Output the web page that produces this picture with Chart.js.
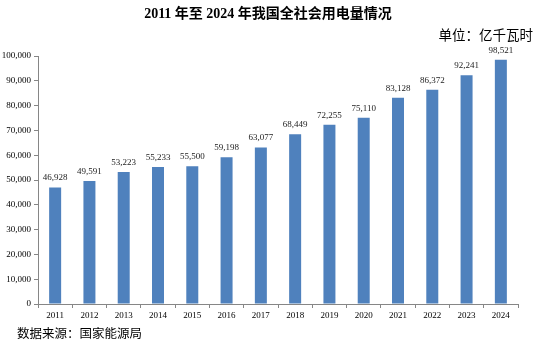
<!DOCTYPE html>
<html>
<head>
<meta charset="utf-8">
<script src="https://cdn.jsdelivr.net/npm/chart.js@4"></script>
<style>
  html, body { margin: 0; padding: 0; background: #fff; }
  #wrap { width: 537px; height: 346px; }
</style>
</head>
<body>
<div id="wrap"><canvas id="myChart" width="537" height="346"></canvas></div>
<script>
const years = ['2011', '2012', '2013', '2014', '2015', '2016', '2017', '2018', '2019', '2020', '2021', '2022', '2023', '2024'];
const usage = [46928, 49591, 53223, 55233, 55500, 59198, 63077, 68449, 72255, 75110, 83128, 86372, 92241, 98521];
const yTicks = [0, 10000, 20000, 30000, 40000, 50000, 60000, 70000, 80000, 90000, 100000];

const titleText = '2011 年至 2024 年我国全社会用电量情况';
const unitText = '单位：亿千瓦时';
const sourceText = '数据来源：国家能源局';

const fmt = (v) => v.toLocaleString('en-US');

// labels above bars + title, unit and source text
const textPlugin = {
  id: 'texts',
  afterDatasetsDraw(chart) {
    const ctx = chart.ctx;
    const meta = chart.getDatasetMeta(0);
    ctx.save();
    ctx.font = '9px "Liberation Serif"';
    ctx.fillStyle = '#222';
    ctx.textAlign = 'center';
    ctx.textBaseline = 'middle';
    meta.data.forEach((bar, i) => {
      ctx.fillText(fmt(usage[i]), bar.x, bar.y - 9.5);
    });

    ctx.fillStyle = '#000';
    ctx.font = 'bold 14px "Liberation Serif", "Noto Sans CJK SC"';
    ctx.fillText(titleText, 268, 14);

    ctx.font = '13.5px "Noto Sans CJK SC"';
    ctx.textAlign = 'right';
    ctx.fillText(unitText, 533, 35);

    ctx.font = '12.5px "Noto Sans CJK SC"';
    ctx.textAlign = 'left';
    ctx.fillText(sourceText, 17, 333);
    ctx.restore();
  }
};

const data = {
  labels: years,
  datasets: [{
    data: usage,
    backgroundColor: '#4F81BD',
    borderWidth: 0,
    barPercentage: 0.7,
    categoryPercentage: 0.5
  }]
};

const config = {
  type: 'bar',
  data: data,
  options: {
    responsive: false,
    animation: false,
    layout: {
      padding: { top: 56, left: 0, right: 19, bottom: 20 }
    },
    plugins: {
      legend: { display: false },
      tooltip: { enabled: false }
    },
    scales: {
      x: {
        afterFit(scale) { scale.height = 22; },
        border: { color: '#868686', width: 1 },
        grid: {
          offset: true,
          drawOnChartArea: false,
          color: '#868686',
          tickLength: 4
        },
        ticks: {
          color: '#000',
          padding: 2,
          maxRotation: 0,
          font: { family: 'Liberation Serif', size: 9 }
        }
      },
      y: {
        min: 0,
        max: 100000,
        afterFit(scale) { scale.width = 38; },
        afterBuildTicks(scale) {
          scale.ticks = yTicks.map(v => ({ value: v }));
        },
        border: { color: '#868686', width: 1 },
        grid: {
          drawOnChartArea: false,
          color: '#868686',
          tickLength: 4
        },
        ticks: {
          color: '#000',
          padding: 3,
          font: { family: 'Liberation Serif', size: 9 },
          callback: (v) => fmt(v)
        }
      }
    }
  },
  plugins: [textPlugin]
};

const myChart = new Chart(document.getElementById('myChart'), config);
</script>
</body>
</html>
